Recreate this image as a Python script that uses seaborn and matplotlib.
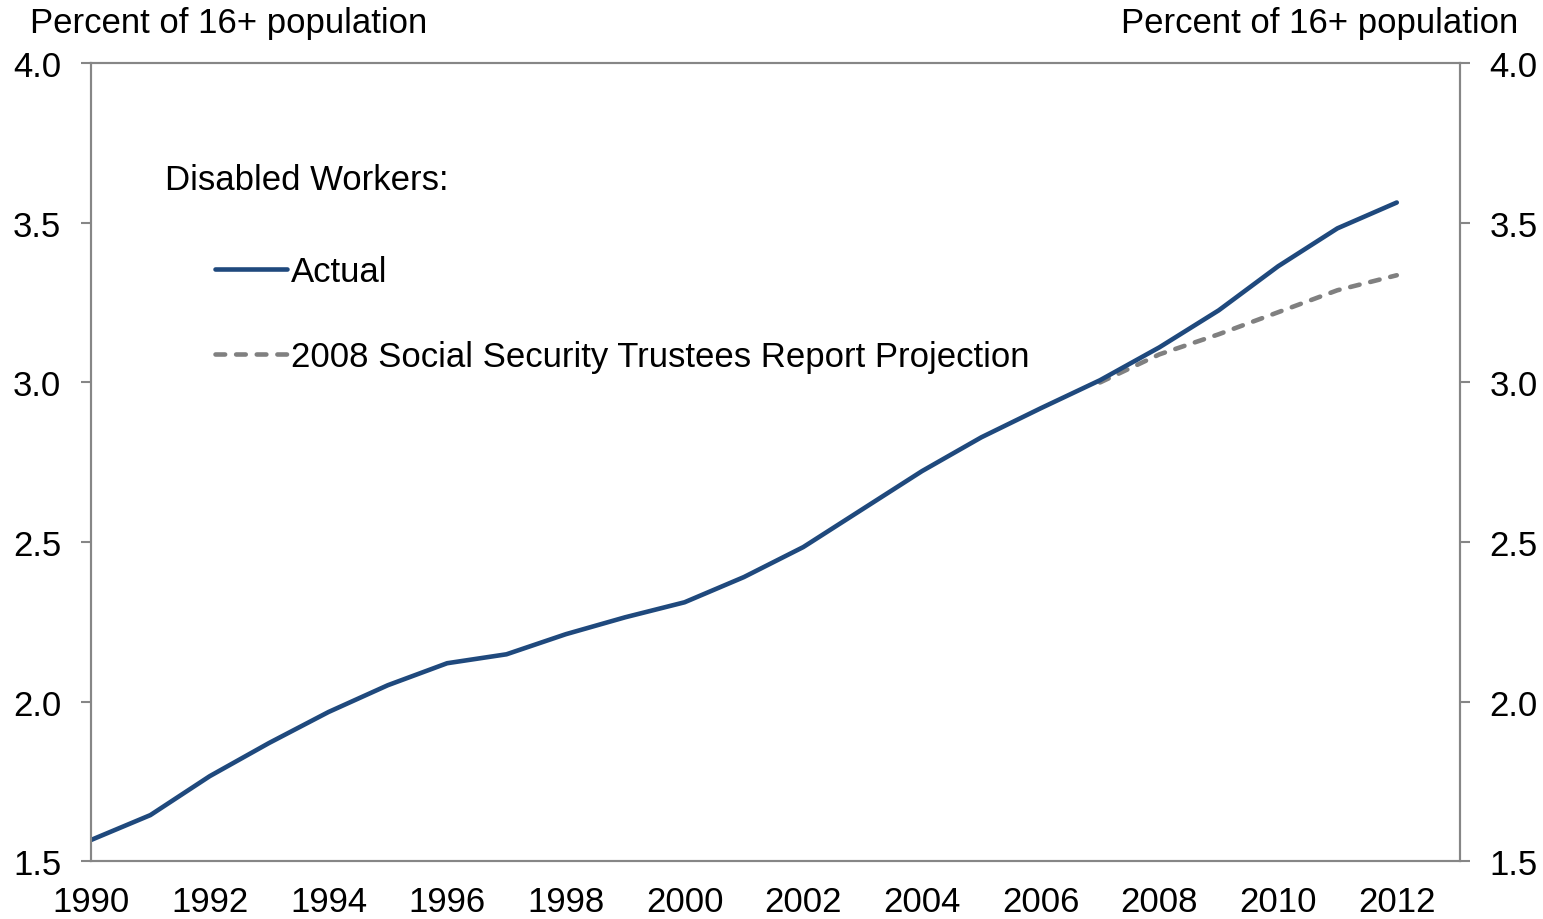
import pandas as pd
import seaborn as sns
import matplotlib.pyplot as plt

# Disabled workers as percent of 16+ population
years = list(range(1990, 2013))
actual = [1.566, 1.644, 1.766, 1.870, 1.967, 2.051, 2.120, 2.148, 2.211, 2.264,
          2.311, 2.390, 2.484, 2.603, 2.722, 2.828, 2.919, 3.007, 3.110, 3.226,
          3.364, 3.483, 3.564]
proj_years = [2007, 2008, 2009, 2010, 2011, 2012]
projection = [3.000, 3.088, 3.151, 3.220, 3.289, 3.336]

df_actual = pd.DataFrame({"Year": years, "Value": actual})
df_proj = pd.DataFrame({"Year": proj_years, "Value": projection})

sns.set_style("white")
plt.rcParams['font.family'] = ['Liberation Sans', 'DejaVu Sans']
plt.rcParams['text.color'] = "black"
plt.rcParams['xtick.labelcolor'] = "black"
plt.rcParams['ytick.labelcolor'] = "black"

fs = 25

fig = plt.figure(figsize=(15.43, 9.2), dpi=100)
ax = fig.add_axes([0.059, 0.063, 0.887, 0.867])

sns.lineplot(data=df_proj, x="Year", y="Value", ax=ax, color="#808080", lw=3.3,
             label="2008 Social Security Trustees Report Projection")
sns.lineplot(data=df_actual, x="Year", y="Value", ax=ax, color="#1F497D", lw=3.3,
             label="Actual", solid_capstyle="round")
ax.lines[0].set_dashes((2.1, 2.4))
ax.lines[0].set_dash_capstyle("round")

ax.set_xlim(1990, 2013.06)
ax.set_ylim(1.5, 4.0)
ax.set_xticks(range(1990, 2013, 2))
ax.set_yticks([1.5, 2.0, 2.5, 3.0, 3.5, 4.0])
ax.set_yticklabels(["1.5", "2.0", "2.5", "3.0", "3.5", "4.0"])
ax.set_xlabel("")
ax.set_ylabel("")

ax2 = ax.twinx()
ax2.set_ylim(1.5, 4.0)
ax2.set_yticks([1.5, 2.0, 2.5, 3.0, 3.5, 4.0])
ax2.set_yticklabels(["1.5", "2.0", "2.5", "3.0", "3.5", "4.0"])

for a in (ax, ax2):
    for s in a.spines.values():
        s.set_color("#868686")
        s.set_linewidth(1.5)
    a.tick_params(direction="out", length=7.5, width=1.5, color="#868686",
                  labelsize=fs, pad=14)
ax.tick_params(axis="x", pad=10)

# legend
handles, labels = ax.get_legend_handles_labels()
ax.legend(handles[::-1], labels[::-1], loc="upper left",
          bbox_to_anchor=(0.0906, 0.760), frameon=False, fontsize=fs,
          handlelength=2.07, handletextpad=0.12, labelspacing=1.51,
          borderaxespad=0, borderpad=0)
ax.text(0.054, 0.855, "Disabled Workers:", transform=ax.transAxes,
        fontsize=fs, va="center", ha="left")

fig.text(30 / 1543, 1 - 23 / 920, "Percent of 16+ population", fontsize=fs,
         ha="left", va="center")
fig.text(1518 / 1543, 1 - 23 / 920, "Percent of 16+ population", fontsize=fs,
         ha="right", va="center")

fig.savefig("out.png", dpi=100)
